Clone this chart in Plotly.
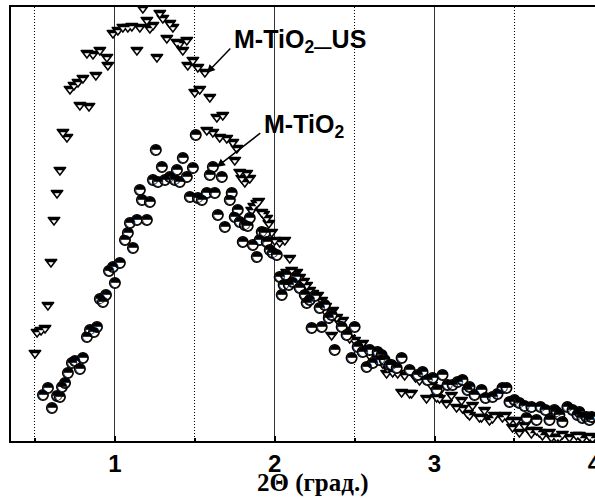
import plotly.graph_objects as go

# Small-angle XRD: 2-theta (deg) and intensity (a.u.)
# M-TiO2 after ultrasonic treatment
theta_us = [0.500, 0.513, 0.538, 0.563, 0.581, 0.600, 0.619, 0.638, 0.656, 0.675,
            0.700, 0.719, 0.744, 0.769, 0.781, 0.800, 0.825, 0.838, 0.863, 0.881,
            0.906, 0.950, 0.956, 0.988, 1.019, 1.050, 1.081, 1.106, 1.138, 1.156,
            1.175, 1.200, 1.219, 1.238, 1.263, 1.281, 1.300, 1.325, 1.344, 1.363,
            1.388, 1.406, 1.425, 1.450, 1.456, 1.488, 1.500, 1.519, 1.531, 1.563,
            1.575, 1.594, 1.613, 1.638, 1.656, 1.675, 1.700, 1.738, 1.750, 1.763,
            1.781, 1.794, 1.813, 1.825, 1.844, 1.856, 1.869, 1.888, 1.900, 1.919,
            1.931, 1.950, 1.963, 1.981, 2.000, 2.031, 2.063, 2.075, 2.094, 2.106,
            2.138, 2.156, 2.181, 2.200, 2.219, 2.238, 2.269, 2.294, 2.313, 2.319,
            2.344, 2.356, 2.363, 2.388, 2.406, 2.425, 2.438, 2.469, 2.500, 2.531,
            2.550, 2.575, 2.594, 2.606, 2.613, 2.644, 2.675, 2.700, 2.706, 2.738,
            2.769, 2.794, 2.813, 2.844, 2.856, 2.881, 2.906, 2.950, 2.981, 3.013,
            3.031, 3.044, 3.075, 3.106, 3.138, 3.169, 3.175, 3.206, 3.219, 3.238,
            3.281, 3.294, 3.313, 3.344, 3.363, 3.375, 3.425, 3.444, 3.469, 3.488,
            3.513, 3.531, 3.563, 3.594, 3.606, 3.638, 3.656, 3.675, 3.719, 3.731,
            3.763, 3.781, 3.800, 3.844, 3.888, 3.906, 3.925, 3.969, 3.988]
int_us = [88, 109, 111, 113, 136, 179, 221, 248, 271, 309,
          304, 352, 356, 359, 336, 363, 388, 335, 387, 366,
          391, 384, 376, 408, 411, 414, 414, 415, 391, 414,
          433, 421, 413, 416, 384, 428, 423, 403, 418, 414,
          399, 398, 391, 401, 376, 381, 349, 374, 352, 369,
          311, 344, 309, 324, 304, 326, 303, 299, 281, 293,
          269, 263, 259, 268, 263, 231, 235, 238, 240, 229,
          227, 223, 218, 209, 201, 199, 201, 169, 183, 171,
          169, 164, 160, 156, 151, 148, 146, 141, 131, 135,
          123, 106, 131, 124, 119, 121, 111, 103, 101, 94,
          98, 93, 86, 91, 84, 81, 78, 68, 73, 69,
          68, 49, 66, 48, 48, 64, 61, 43, 56, 44,
          43, 53, 38, 46, 34, 41, 33, 28, 26, 36,
          24, 24, 31, 21, 23, 26, 24, 26, 21, 14,
          21, 9, 16, 11, 8, 11, 9, 6, 9, 4,
          4, 4, 7, 4, 6, 6, 3, 5, 3]

# M-TiO2 as prepared
theta_m = [0.550, 0.581, 0.606, 0.638, 0.656, 0.669, 0.688, 0.706, 0.731, 0.750,
           0.781, 0.800, 0.825, 0.844, 0.869, 0.888, 0.906, 0.925, 0.944, 0.963,
           0.988, 1.000, 1.031, 1.063, 1.081, 1.094, 1.113, 1.138, 1.156, 1.169,
           1.200, 1.219, 1.238, 1.256, 1.269, 1.294, 1.313, 1.344, 1.375, 1.388,
           1.406, 1.425, 1.450, 1.469, 1.488, 1.506, 1.519, 1.544, 1.575, 1.594,
           1.613, 1.625, 1.644, 1.669, 1.688, 1.719, 1.731, 1.750, 1.769, 1.781,
           1.800, 1.813, 1.831, 1.844, 1.863, 1.888, 1.906, 1.919, 1.938, 1.950,
           1.969, 1.988, 2.013, 2.031, 2.044, 2.056, 2.069, 2.088, 2.113, 2.131,
           2.156, 2.188, 2.200, 2.219, 2.231, 2.250, 2.281, 2.294, 2.313, 2.338,
           2.356, 2.375, 2.419, 2.450, 2.481, 2.500, 2.519, 2.550, 2.575, 2.594,
           2.613, 2.644, 2.656, 2.669, 2.688, 2.719, 2.731, 2.763, 2.794, 2.844,
           2.894, 2.925, 2.956, 2.988, 3.013, 3.050, 3.081, 3.113, 3.144, 3.175,
           3.206, 3.219, 3.250, 3.294, 3.319, 3.363, 3.394, 3.425, 3.450, 3.469,
           3.500, 3.531, 3.563, 3.575, 3.606, 3.638, 3.663, 3.694, 3.719, 3.750,
           3.763, 3.781, 3.800, 3.831, 3.863, 3.894, 3.906, 3.925, 3.950, 3.969,
           3.981]
int_m = [46, 53, 33, 45, 44, 54, 58, 68, 78, 80,
         72, 83, 104, 111, 109, 114, 142, 139, 146, 170,
         174, 158, 178, 201, 208, 218, 193, 221, 251, 241,
         221, 239, 261, 291, 259, 274, 261, 264, 261, 271,
         259, 283, 264, 244, 273, 306, 243, 241, 248, 266,
         274, 248, 226, 264, 214, 241, 248, 224, 231, 219,
         199, 216, 215, 223, 196, 184, 201, 209, 208, 199,
         191, 188, 186, 164, 146, 156, 166, 156, 159, 164,
         153, 146, 138, 141, 113, 145, 133, 114, 136, 123,
         126, 91, 114, 106, 83, 114, 94, 89, 74, 91,
         78, 89, 81, 86, 81, 76, 76, 73, 83, 71,
         66, 69, 61, 63, 51, 66, 56, 56, 59, 61,
         51, 54, 46, 51, 43, 44, 47, 53, 53, 39,
         41, 38, 35, 23, 34, 21, 34, 31, 21, 31,
         29, 26, 19, 34, 31, 26, 29, 23, 24, 21,
         24]

tick_vals = [1, 2, 3, 4]
tick_text = ["1", "2", "3", "4"]

label_us = "M-TiO<sub>2</sub><sub>—</sub>US"
label_m = "M-TiO<sub>2</sub>"
x_title = "2Θ (град.)"

fig = go.Figure()

# Triangles: black body, with a smaller white triangle sharing the lower
# vertex so only the upper band stays black
fig.add_trace(go.Scatter(
    x=theta_us, y=int_us, mode="markers", showlegend=False, hoverinfo="skip",
    marker=dict(symbol="triangle-down", size=10.5, color="black",
                line=dict(color="black", width=1.2)),
))
fig.add_trace(go.Scatter(
    x=theta_us, y=int_us, mode="markers", showlegend=False, hoverinfo="skip",
    marker=dict(symbol="triangle-down", size=4.5, color="white", standoff=1.5,
                line=dict(width=0)),
))

# Circles: white disc with outline, upper half filled by a half-black glyph
fig.add_trace(go.Scatter(
    x=theta_m, y=int_m, mode="markers+text", showlegend=False, hoverinfo="skip",
    marker=dict(symbol="circle", size=10.5, color="white",
                line=dict(color="black", width=1.5)),
    text=["◓"] * len(theta_m), textposition="middle center",
    textfont=dict(family="DejaVu Sans", size=13, color="black"),
))

# Arrows pointing from the labels to the curves
fig.add_annotation(x=1.575, y=368, xref="x", yref="y", text="", showarrow=True,
                   ax=25, ay=-26, arrowhead=2, arrowsize=1.1, arrowwidth=1.5,
                   arrowcolor="black")
fig.add_annotation(x=1.6375, y=274, xref="x", yref="y", text="", showarrow=True,
                   ax=45, ay=-35, arrowhead=2, arrowsize=1.1, arrowwidth=1.5,
                   arrowcolor="black")

lab_font = dict(family="Liberation Sans", size=25, color="black", weight="bold")
fig.add_annotation(x=1.73, y=400, xref="x", yref="y", text=label_us,
                   showarrow=False, xanchor="left", yanchor="middle", font=lab_font)
fig.add_annotation(x=1.92, y=315, xref="x", yref="y", text=label_m,
                   showarrow=False, xanchor="left", yanchor="middle", font=lab_font)

fig.add_annotation(x=0.517, y=-0.097, xref="paper", yref="paper", text=x_title,
                   showarrow=False, xanchor="center", yanchor="middle",
                   font=dict(family="Liberation Serif", size=25, color="black",
                             weight="bold"))

fig.update_xaxes(
    range=[0.35, 4.004], tickvals=tick_vals, ticktext=tick_text,
    ticklabeloverflow="allow", automargin=False,
    ticks="inside", ticklen=5, tickwidth=1.5, tickcolor="black",
    tickfont=dict(family="Liberation Sans", size=24, color="black", weight="bold"),
    showline=True, linecolor="black", linewidth=2, mirror=True,
    showgrid=True, gridcolor="#333333", gridwidth=1,
    minor=dict(dtick=0.5, tick0=0, ticks="inside", ticklen=3, tickcolor="black",
               showgrid=True, gridcolor="black", gridwidth=1, griddash="1px,2px"),
    zeroline=False,
)
fig.update_yaxes(
    range=[0, 434], showticklabels=False, ticks="", showgrid=False,
    showline=True, linecolor="black", linewidth=2, mirror=False, zeroline=False,
    automargin=False,
)

fig.update_layout(
    width=595, height=499, margin=dict(l=11, r=0, t=7, b=58),
    paper_bgcolor="white", plot_bgcolor="white",
)

fig.write_html("out.html")
